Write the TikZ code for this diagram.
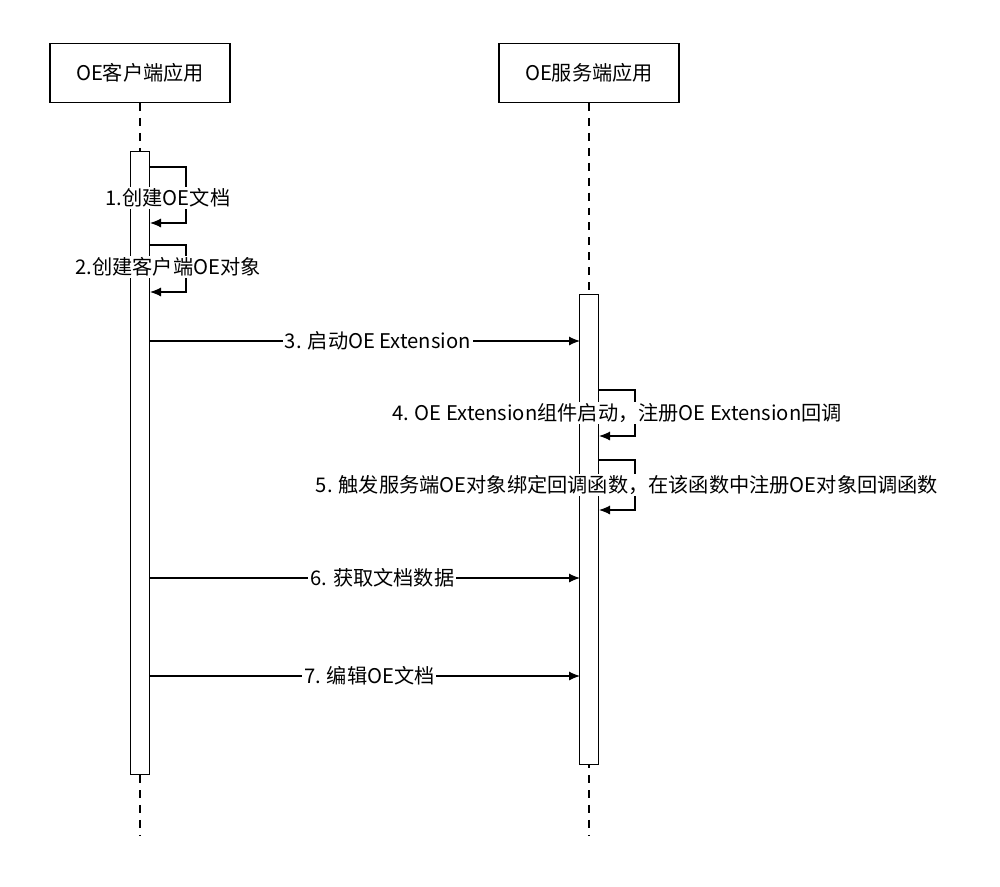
\documentclass[tikz,border=0pt]{standalone}
\usepackage{fontspec}
\setmainfont{Noto Sans CJK SC}
\usetikzlibrary{arrows.meta,positioning}
\tikzset{
  actor/.style={draw,minimum width=3.6cm,minimum height=1.18cm,font=\fontsize{11.5}{13}\selectfont},
  bar/.style={draw,fill=white,minimum width=0.38cm,inner sep=0pt},
  msg/.style={-{Latex[length=2.2mm,width=1.8mm]}},
  lbl/.style={fill=white,inner sep=1pt,font=\fontsize{11.5}{13}\selectfont},
  life/.style={dash pattern=on 4.5pt off 4pt}
}
\begin{document}
\begin{tikzpicture}[x=0.02cm,y=-0.02cm,semithick]
\useasboundingbox (0,0) rectangle (1000,886);
% Actors
\node [actor] (cli) at (140,73) {OE客户端应用};
\node [actor] (srv) at (589,73) {OE服务端应用};
% Lifelines
\coordinate (cliend) at (140,835);
\coordinate (srvend) at (589,835);
\draw [life] (cli) -- (cliend);
\draw [life] (srv) -- (srvend);
% Activations
\node [bar,minimum height=12.48cm] (clibar) at (140,463) {};
\node [bar,minimum height=9.42cm] (srvbar) at (589,529.5) {};
% Self calls of the client
\draw [msg] (150,167) -| (186,223) -- (150,223);
\node [lbl] (m1) at (168,198) {1.创建OE文档};
\draw [msg] (150,245) -| (186,292) -- (150,292);
\node [lbl] (m2) at (168,267) {2.创建客户端OE对象};
% Start
\coordinate (a3) at (150,341);
\coordinate (b3) at (580,341);
\draw [msg] (a3) -- (b3) node [lbl,pos=0.53] (m3) {3. 启动OE Extension};
% Self calls of the server
\draw [msg] (599,390) -| (635,436) -- (599,436);
\node [lbl] (m4) at (617,413) {4. OE Extension组件启动，注册OE Extension回调};
\draw [msg] (599,460) -| (635,510) -- (599,510);
\node [lbl] (m5) at (627,485) {5. 触发服务端OE对象绑定回调函数，在该函数中注册OE对象回调函数};
% Data and editing
\coordinate (a6) at (150,578);
\coordinate (b6) at (580,578);
\draw [msg] (a6) -- (b6) node [lbl,pos=0.54] (m6) {6. 获取文档数据};
\coordinate (a7) at (150,676);
\coordinate (b7) at (580,676);
\draw [msg] (a7) -- (b7) node [lbl,pos=0.51] (m7) {7. 编辑OE文档};
\end{tikzpicture}
\end{document}
